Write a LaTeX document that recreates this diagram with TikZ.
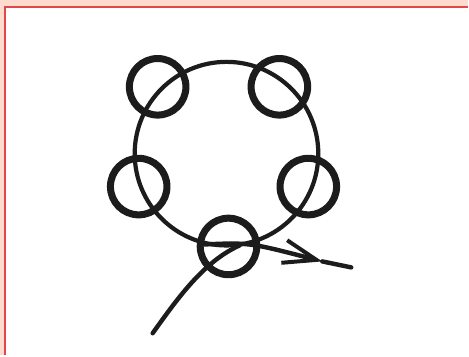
\documentclass[tikz,border=0pt]{standalone}
\usetikzlibrary{positioning, calc, arrows.meta}
\definecolor{Peach}{HTML}{FDDCCE}
\definecolor{Frame}{HTML}{E0484B}
\definecolor{Ink}{HTML}{1C1C1C}
\tikzset{
    ringnode/.style={circle, draw=Ink, line width=6pt, minimum size=1.7cm, inner sep=0pt},
    loopnode/.style={circle, draw=Ink, line width=3.6pt, minimum size=5.52cm, inner sep=0pt},
    flow/.style={draw=Ink, line width=3.8pt, line cap=round},
}
\begin{document}
\begin{tikzpicture}[x=0.03cm, y=-0.03cm]
    % Sfondo
    \fill[Peach] (0,0) rectangle (469,356);
    \fill[white] (5,7) rectangle (469,356);
    \draw[Frame, line width=1.8pt] (5,356) -- (5,7) -- (469,7);
    % Anello
    \node[loopnode] (loop) at (227,154) {};
    % Perle
    \foreach \name/\px/\py in {tl/158/87, tr/280/87, ml/139/187, mr/309/187, bm/229/247}
        \node[ringnode] (\name) at (\px,\py) {};
    % Percorso
    \coordinate (start) at (153,334);
    \coordinate (merge) at (240,246);
    \coordinate (exit) at (205,245);
    \coordinate (tip) at (323,262);
    \coordinate (tail) at (352,268);
    \draw[flow] (start) .. controls (180,296) and (205,262) .. (merge);
    \draw[flow, -{Straight Barb[length=10mm, width=7mm, line width=3.4pt]}] (exit) .. controls (250,243) .. (tip);
    \draw[flow] (tip) -- (tail);
\end{tikzpicture}
\end{document}
